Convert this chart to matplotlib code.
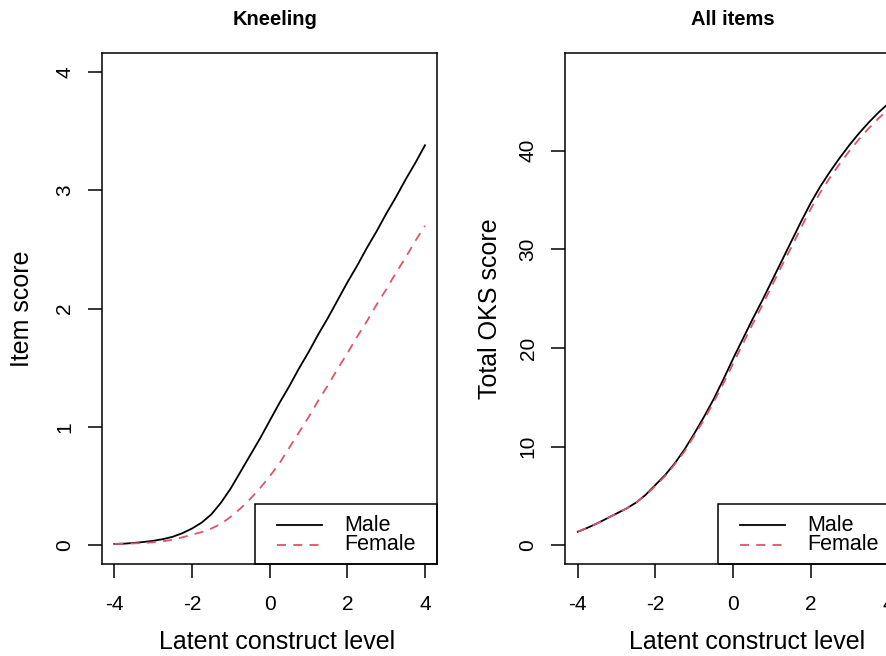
import numpy as np
import matplotlib
matplotlib.use("Agg")
import matplotlib.pyplot as plt
from matplotlib.patches import Rectangle

plt.rcParams['font.family'] = ['Liberation Sans', 'DejaVu Sans']

# latent construct level (theta) grid
theta = [-4, -3.75, -3.5, -3.25, -3, -2.75, -2.5, -2.25, -2, -1.75, -1.5, -1.25, -1,
         -0.75, -0.5, -0.25, 0, 0.25, 0.5, 0.75, 1, 1.25, 1.5, 1.75, 2, 2.25, 2.5,
         2.75, 3, 3.25, 3.5, 3.75, 4]

# Kneeling item, expected score
kneel_male = [0.01, 0.012, 0.018, 0.026, 0.036, 0.05, 0.07, 0.10, 0.14, 0.19, 0.26,
              0.36, 0.48, 0.62, 0.76, 0.90, 1.05, 1.20, 1.34, 1.49, 1.63, 1.78, 1.92,
              2.07, 2.22, 2.36, 2.51, 2.65, 2.80, 2.94, 3.09, 3.23, 3.38]
kneel_female = [0.01, 0.011, 0.014, 0.018, 0.024, 0.032, 0.045, 0.065, 0.088, 0.11,
                0.14, 0.18, 0.24, 0.31, 0.39, 0.48, 0.58, 0.69, 0.82, 0.95, 1.08, 1.22,
                1.35, 1.49, 1.62, 1.76, 1.89, 2.03, 2.16, 2.30, 2.43, 2.57, 2.70]

# all items, expected total OKS score
total_male = [1.35, 1.75, 2.2, 2.7, 3.2, 3.7, 4.3, 5.1, 6.1, 7.1, 8.3, 9.7, 11.3,
              13.0, 14.8, 16.8, 18.9, 20.9, 22.9, 24.8, 26.8, 28.8, 30.8, 32.8, 34.7,
              36.4, 37.9, 39.3, 40.6, 41.8, 42.9, 43.9, 44.8]
total_female = [1.35, 1.75, 2.2, 2.7, 3.2, 3.7, 4.3, 5.05, 6.0, 7.0, 8.2, 9.5, 11.1,
                12.7, 14.5, 16.4, 18.4, 20.4, 22.4, 24.3, 26.3, 28.3, 30.2, 32.2, 34.1,
                35.8, 37.3, 38.7, 40.0, 41.2, 42.3, 43.3, 44.2]

labels = ['Male', 'Female']
col_male = 'black'
col_female = '#DF536B'
dash = (0, (5, 4))

W, H = 887, 656
fig = plt.figure(figsize=(W / 100, H / 100), dpi=100)

ax_w = 335.5 / W
ax_h = 511 / H
ax_b = (H - 564) / H
ax1 = fig.add_axes([101.9 / W, ax_b, ax_w, ax_h])
ax2 = fig.add_axes([565.3 / W, ax_b, ax_w, ax_h])


def r_style(ax, ymax, yticks, title, ylabel, title_x, xlabel_x):
    ax.set_xlim(-4 - 0.32, 4 + 0.32)
    ax.set_ylim(-0.04 * ymax, ymax * 1.04)
    ax.set_xticks([-4, -2, 0, 2, 4])
    ax.set_xticklabels(['-4', '-2', '0', '2', '4'])
    ax.set_yticks(yticks)
    ax.set_yticklabels([str(t) for t in yticks], rotation=90, va='center')
    for s in ax.spines.values():
        s.set_linewidth(1.1)
    ax.tick_params(length=10, width=1.1, labelsize=15)
    ax.tick_params(axis='x', pad=12)
    ax.tick_params(axis='y', pad=10)
    ax.set_title(title, fontsize=14.5, fontweight='bold', x=title_x, y=1.0, pad=20)
    ax.set_xlabel('Latent construct level', fontsize=18)
    ax.xaxis.set_label_coords(xlabel_x, -0.1526)
    ax.xaxis.label.set_va('center')
    ax.set_ylabel(ylabel, fontsize=18)
    ax.yaxis.label.set_va('center')


def r_legend(ax):
    # bottomright legend box, drawn like R's legend()
    ax.add_patch(Rectangle((0.456, 0.0), 0.544, 0.1174, transform=ax.transAxes,
                           fill=False, lw=1.1, ec='black', clip_on=False, zorder=5))
    rows = [(0.0763, col_male, '-'), (0.0372, col_female, dash)]
    for (yy, c, ls), lab in zip(rows, labels):
        ax.plot([0.522, 0.656], [yy, yy], color=c, ls=ls, lw=1.3,
                transform=ax.transAxes, clip_on=False, zorder=6)
        ax.text(0.722, yy, lab, transform=ax.transAxes, fontsize=15.5,
                va='center', ha='left', zorder=6)


ax1.plot(theta, kneel_male, color=col_male, lw=1.3)
ax1.plot(theta, kneel_female, color=col_female, lw=1.3, ls=dash)
r_style(ax1, 4, [0, 1, 2, 3, 4], 'Kneeling', 'Item score', 0.516, 0.522)
ax1.yaxis.set_label_coords((22 - 101.9) / 335.5, 0.5)
r_legend(ax1)

ax2.plot(theta, total_male, color=col_male, lw=1.3)
ax2.plot(theta, total_female, color=col_female, lw=1.3, ls=dash)
r_style(ax2, 48, [0, 10, 20, 30, 40], 'All items', 'Total OKS score', 0.5, 0.541)
ax2.yaxis.set_label_coords((490 - 565.3) / 335.5, 0.5)
r_legend(ax2)

fig.savefig('out.png', dpi=100)
